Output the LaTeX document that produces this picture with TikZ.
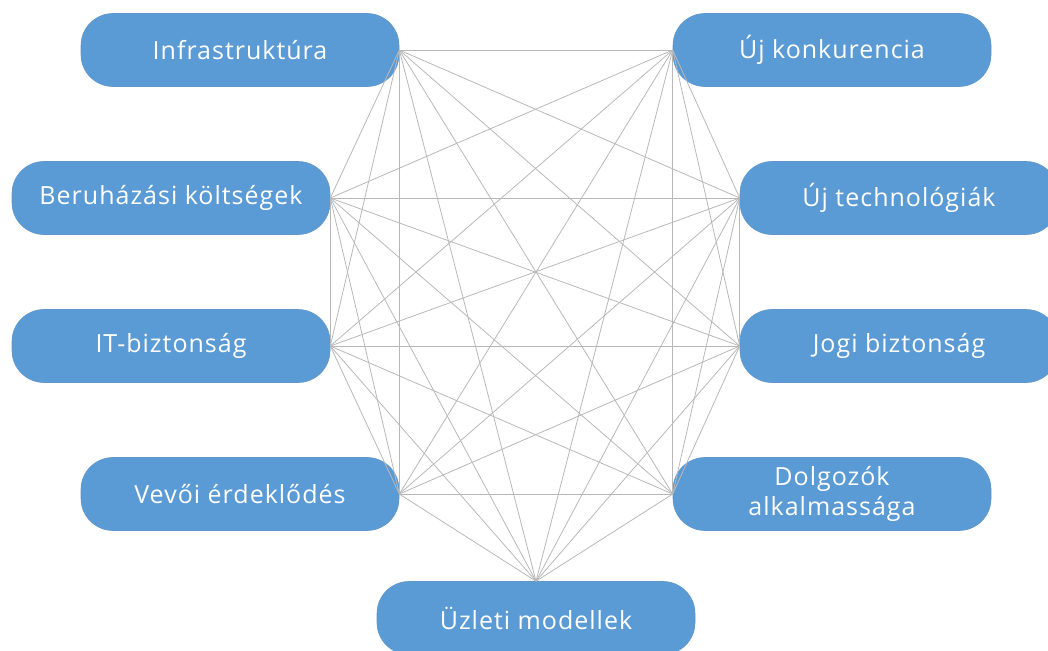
\documentclass[tikz,border=0pt]{standalone}
\usepackage{fontspec}
\setmainfont[LetterSpace=4]{Open Sans}
\usetikzlibrary{positioning}
\definecolor{kek}{HTML}{5B9BD5}
\definecolor{szurke}{HTML}{B8B8B8}

\begin{document}
\begin{tikzpicture}[x=1pt, y=-1pt,
    tema/.style={fill=kek, draw=kek!85!gray, line width=0.6pt, rounded corners=32pt,
                 minimum width=318pt, minimum height=73pt, text=white, align=center,
                 font=\fontsize{25}{30}\selectfont},
    kapcsolat/.style={draw=szurke, line width=0.8pt}]
    \useasboundingbox (0,0) rectangle (1048,650);
    % bal oldal
    \node[tema] (infra) at (240,50) {Infrastruktúra};
    \node[tema] (beruh) at (171,198) {Beruházási költségek};
    \node[tema] (itbiz) at (171,346) {IT-biztonság};
    \node[tema] (vevoi) at (240,494) {Vevői érdeklődés};
    % jobb oldal
    \node[tema] (ujkonk) at (832,50) {Új konkurencia};
    \node[tema] (ujtech) at (899,198) {Új technológiák};
    \node[tema] (jogi) at (899,346) {Jogi biztonság};
    \node[tema] (dolg) at (832,494) {Dolgozók\\alkalmassága};
    % alul
    \node[tema] (uzleti) at (536,618) {Üzleti modellek};
    % mindenki mindenkivel
    \foreach \a [count=\i] in {infra.east, beruh.east, itbiz.east, vevoi.east,
        uzleti.north, dolg.west, jogi.west, ujtech.west, ujkonk.west}{
      \foreach \b [count=\j] in {infra.east, beruh.east, itbiz.east, vevoi.east,
          uzleti.north, dolg.west, jogi.west, ujtech.west, ujkonk.west}{
        \ifnum\j>\i \draw[kapcsolat] (\a) -- (\b); \fi
      }
    }
\end{tikzpicture}
\end{document}
